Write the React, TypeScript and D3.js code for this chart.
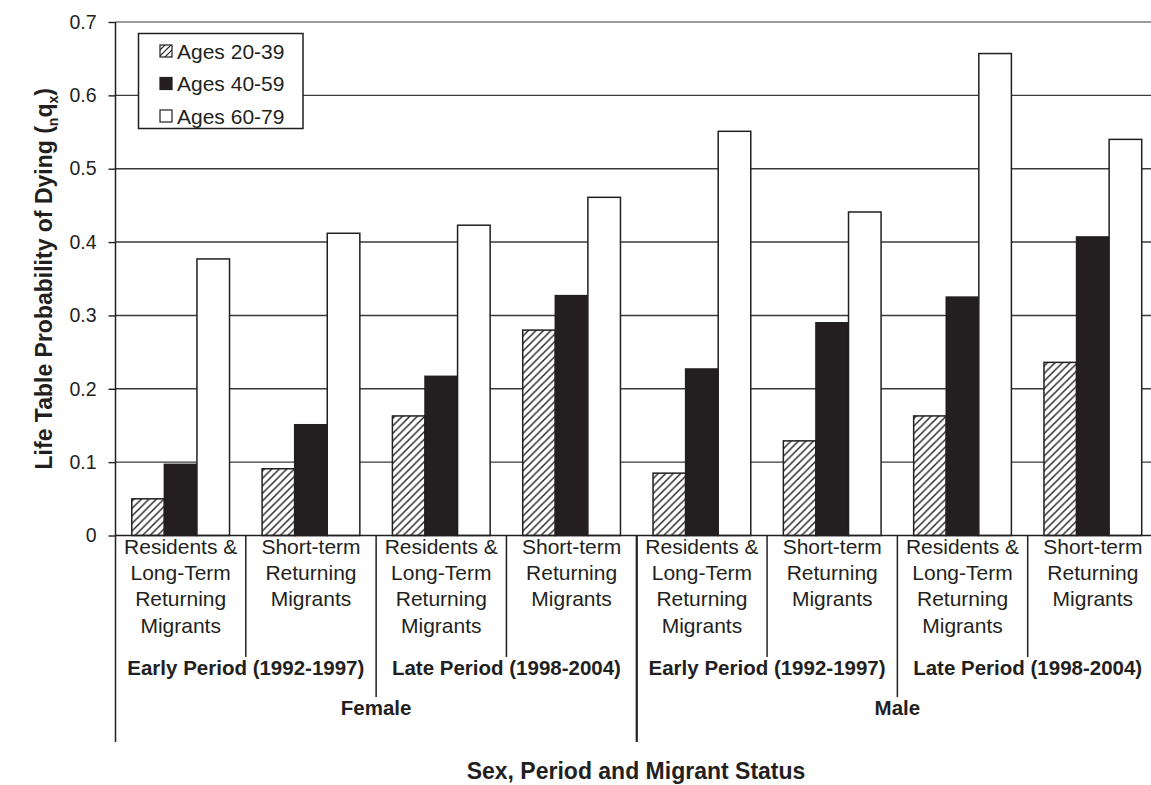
import React, { useEffect, useRef } from 'react';
import * as d3 from 'd3';

// bar groups, left to right
const categories = [
  'female-early-res', 'female-early-short',
  'female-late-res', 'female-late-short',
  'male-early-res', 'male-early-short',
  'male-late-res', 'male-late-short',
];
const seriesNames = ['Ages 20-39', 'Ages 40-59', 'Ages 60-79'];
const ages2039 = [0.05, 0.091, 0.163, 0.28, 0.085, 0.129, 0.163, 0.236];
const ages4059 = [0.097, 0.151, 0.217, 0.327, 0.227, 0.29, 0.325, 0.407];
const ages6079 = [0.377, 0.412, 0.423, 0.461, 0.551, 0.441, 0.657, 0.54];

const statusResidents = ['Residents &', 'Long-Term', 'Returning', 'Migrants'];
const statusShort = ['Short-term', 'Returning', 'Migrants'];
const statusLabels = [
  statusResidents, statusShort, statusResidents, statusShort,
  statusResidents, statusShort, statusResidents, statusShort,
];
const periodLabels = [
  'Early Period (1992-1997)', 'Late Period (1998-2004)',
  'Early Period (1992-1997)', 'Late Period (1998-2004)',
];
const sexLabels = ['Female', 'Male'];
const yTicks = [0, 0.1, 0.2, 0.3, 0.4, 0.5, 0.6, 0.7];

const W = 1151;
const H = 785;
const INK = '#231f20';
const FONT = '"Liberation Sans", Arial, Helvetica, sans-serif';

export default function App() {
  const ref = useRef<SVGSVGElement>(null);

  useEffect(() => {
    draw();
  }, []);

  function draw() {
    const svg = d3.select(ref.current);
    svg.selectAll('*').remove();

    const x = d3.scaleBand<string>()
      .domain(categories)
      .range([115.5, 1158])
      .paddingInner(0)
      .paddingOuter(0);

    const xs = d3.scaleBand<string>()
      .domain(seriesNames)
      .range([0, x.bandwidth()])
      .paddingInner(0)
      .paddingOuter(0.5);

    const y = d3.scaleLinear()
      .domain([0, 0.7])
      .range([535.5, 22]);

    const x0 = x.range()[0];

    const defs = svg.append('defs');
    const hatch = defs.append('pattern')
      .attr('id', 'hatch')
      .attr('patternUnits', 'userSpaceOnUse')
      .attr('width', 7.5)
      .attr('height', 7.5);
    hatch.append('rect').attr('width', 7.5).attr('height', 7.5).attr('fill', '#fff');
    hatch.append('path')
      .attr('d', 'M0,7.5 L7.5,0 M-2,2 L2,-2 M5.5,9.5 L9.5,5.5')
      .attr('stroke', INK)
      .attr('stroke-width', 1.4);

    const hatchSmall = defs.append('pattern')
      .attr('id', 'hatch-small')
      .attr('patternUnits', 'userSpaceOnUse')
      .attr('width', 6)
      .attr('height', 6);
    hatchSmall.append('rect').attr('width', 6).attr('height', 6).attr('fill', '#fff');
    hatchSmall.append('path')
      .attr('d', 'M0,6 L6,0 M-2,2 L2,-2 M4,8 L8,4')
      .attr('stroke', INK)
      .attr('stroke-width', 1.2);

    const fills = ['url(#hatch)', INK, '#fff'];
    const legendFills = ['url(#hatch-small)', INK, '#fff'];

    // gridlines
    svg.append('g')
      .selectAll('line')
      .data(yTicks.filter((t) => t > 0 && t < 0.7))
      .enter()
      .append('line')
      .attr('x1', x0)
      .attr('x2', W)
      .attr('y1', (d) => y(d))
      .attr('y2', (d) => y(d))
      .attr('stroke', '#3a3a3a')
      .attr('stroke-width', 1.4);

    svg.append('line')
      .attr('x1', x0)
      .attr('x2', W)
      .attr('y1', y(0.7))
      .attr('y2', y(0.7))
      .attr('stroke', '#9c9c9c')
      .attr('stroke-width', 2);

    // bars
    const rows = categories.map((c, i) => ({
      key: c,
      values: [ages2039[i], ages4059[i], ages6079[i]],
    }));

    svg.append('g')
      .selectAll('g')
      .data(rows)
      .enter()
      .append('g')
      .attr('transform', (d) => `translate(${x(d.key)},0)`)
      .selectAll('rect')
      .data((d) => d.values.map((v, j) => ({ v, j })))
      .enter()
      .append('rect')
      .attr('x', (d) => xs(seriesNames[d.j])!)
      .attr('y', (d) => y(d.v))
      .attr('width', xs.bandwidth())
      .attr('height', (d) => y(0) - y(d.v))
      .attr('fill', (d) => fills[d.j])
      .attr('stroke', INK)
      .attr('stroke-width', 1.5);

    // y axis
    const yAxis = svg.append('g')
      .attr('transform', `translate(${x0},0)`)
      .call(d3.axisLeft(y)
        .tickValues(yTicks)
        .tickSize(7)
        .tickPadding(12)
        .tickFormat((d) => (+d === 0 ? '0' : d3.format('.1f')(+d))));
    yAxis.select('.domain').remove();
    yAxis.selectAll('.tick line').attr('stroke', INK).attr('stroke-width', 1.4);
    yAxis.selectAll('.tick text')
      .attr('fill', INK)
      .style('font-family', FONT)
      .style('font-size', '19.5px');

    // x axis line and hierarchical separators
    svg.append('line')
      .attr('x1', x0)
      .attr('x2', W)
      .attr('y1', y(0))
      .attr('y2', y(0))
      .attr('stroke', INK)
      .attr('stroke-width', 1.5);

    const bounds = d3.range(categories.length + 1);
    svg.append('g')
      .selectAll('line')
      .data(bounds)
      .enter()
      .append('line')
      .attr('x1', (i) => x0 + i * x.step())
      .attr('x2', (i) => x0 + i * x.step())
      .attr('y1', (i) => (i === 0 ? y(0.7) : y(0)))
      .attr('y2', (i) => {
        if (i % 4 === 0) return 742;
        if (i % 2 === 0) return 697;
        return 657;
      })
      .attr('stroke', INK)
      .attr('stroke-width', (i) => (i === 4 ? 2.2 : 1.5));

    // category labels
    const catG = svg.append('g')
      .style('font-family', FONT)
      .style('font-size', '21px')
      .attr('fill', INK)
      .attr('text-anchor', 'middle');
    statusLabels.forEach((lines, i) => {
      const cx = x(categories[i])! + x.bandwidth() / 2;
      const t = catG.append('text')
        .attr('x', cx)
        .attr('y', 554);
      lines.forEach((ln, k) => {
        t.append('tspan')
          .attr('x', cx)
          .attr('dy', k === 0 ? 0 : 26.2)
          .text(ln);
      });
    });

    const boldG = svg.append('g')
      .style('font-family', FONT)
      .style('font-weight', 'bold')
      .attr('fill', INK)
      .attr('text-anchor', 'middle');

    periodLabels.forEach((p, i) => {
      boldG.append('text')
        .attr('x', x0 + (i * 2 + 1) * x.step())
        .attr('y', 675)
        .style('font-size', '20.5px')
        .text(p);
    });

    sexLabels.forEach((s, i) => {
      boldG.append('text')
        .attr('x', x0 + (i * 4 + 2) * x.step())
        .attr('y', 715)
        .style('font-size', '20.5px')
        .text(s);
    });

    boldG.append('text')
      .attr('x', 636)
      .attr('y', 779)
      .style('font-size', '23px')
      .text('Sex, Period and Migrant Status');

    // y title with subscripts
    const yt = boldG.append('text')
      .attr('transform', `translate(52,${(y(0) + y(0.7)) / 2}) rotate(-90)`)
      .style('font-size', '23px');
    yt.append('tspan').text('Life Table Probability of Dying (');
    yt.append('tspan').attr('dy', 6).style('font-size', '14px').text('n');
    yt.append('tspan').attr('dy', -6).text('q');
    yt.append('tspan').attr('dy', 6).style('font-size', '14px').text('x');
    yt.append('tspan').attr('dy', -6).text(')');

    // legend
    const lg = svg.append('g');
    lg.append('rect')
      .attr('x', 138.5)
      .attr('y', 33.5)
      .attr('width', 164.5)
      .attr('height', 95)
      .attr('fill', '#fff')
      .attr('stroke', INK)
      .attr('stroke-width', 1.5);
    seriesNames.forEach((name, j) => {
      const cy = 51 + j * 32.5;
      lg.append('rect')
        .attr('x', 160)
        .attr('y', cy - 6)
        .attr('width', 12)
        .attr('height', 12)
        .attr('fill', legendFills[j])
        .attr('stroke', INK)
        .attr('stroke-width', 1.2);
      lg.append('text')
        .attr('x', 177)
        .attr('y', cy + 7.5)
        .attr('fill', INK)
        .style('font-family', FONT)
        .style('font-size', '21px')
        .text(name);
    });
  }

  return (
    <svg
      ref={ref}
      width={W}
      height={H}
      viewBox={`0 0 ${W} ${H}`}
      style={{ position: 'absolute', left: 0, top: 0, background: '#fff' }}
    />
  );
}
